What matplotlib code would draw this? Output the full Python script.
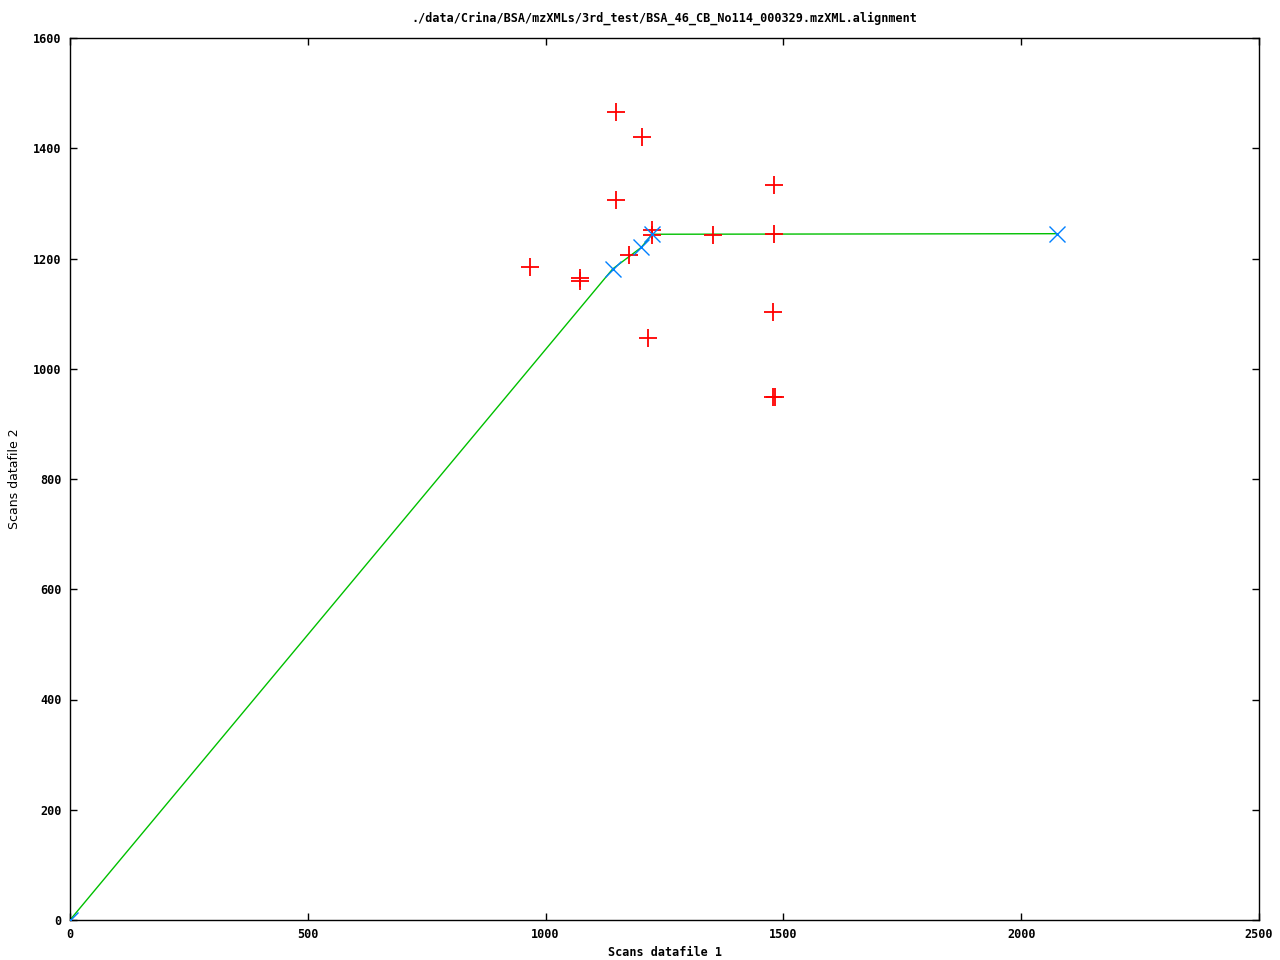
import matplotlib
matplotlib.use("Agg")
import matplotlib.pyplot as plt

title = "./data/Crina/BSA/mzXMLs/3rd_test/BSA_46_CB_No114_000329.mzXML.alignment"
xlabel = "Scans datafile 1"
ylabel = "Scans datafile 2"

# red plus markers (candidate matches)
match_x = [1148, 1203, 1480, 1149, 1224, 1224, 1353, 1480, 1176, 968, 1072, 1072, 1479, 1216, 1479, 1482]
match_y = [1466, 1421, 1333, 1307, 1252, 1242, 1242, 1244, 1206, 1184, 1164, 1160, 1103, 1056, 949, 949]

# alignment path (green line) and anchor points (blue X)
path_x = [0, 1141, 1201, 1224, 2076]
path_y = [0, 1181, 1220, 1244, 1245]

xticks = [0, 500, 1000, 1500, 2000, 2500]
yticks = [0, 200, 400, 600, 800, 1000, 1200, 1400, 1600]

plt.rcParams['font.family'] = ['DejaVu Sans Mono']
fig = plt.figure(figsize=(12.8, 9.6), dpi=100)
ax = fig.add_axes([70/1280, 40/960, (1259-70)/1280, (920-38)/960])

ax.plot(match_x, match_y, linestyle='none', marker='+', color='#ff0000',
        markersize=13, markeredgewidth=1.3, zorder=3)
ax.plot(path_x, path_y, color='#00c000', linewidth=1.0, zorder=2)
ax.plot(path_x, path_y, linestyle='none', marker='x', color='#0080ff',
        markersize=12, markeredgewidth=1.0, zorder=4)

ax.set_xlim(0, 2500)
ax.set_ylim(0, 1600)
ax.set_xticks(xticks)
ax.set_yticks(yticks)
ax.set_xticklabels([str(t) for t in xticks], fontsize=8.5, fontweight='bold')
ax.set_yticklabels([str(t) for t in yticks], fontsize=8.5, fontweight='bold')
ax.tick_params(direction='in', length=5, width=1, top=True, right=True, pad=6)
for s in ax.spines.values():
    s.set_linewidth(1.0)
ax.set_title(title, fontsize=8.5, fontweight='bold', pad=12)
ax.set_xlabel(xlabel, fontsize=8.5, fontweight='bold', labelpad=3)
ax.set_ylabel(ylabel, fontsize=9, family='DejaVu Sans', labelpad=9)

fig.savefig("out.png", dpi=100)
